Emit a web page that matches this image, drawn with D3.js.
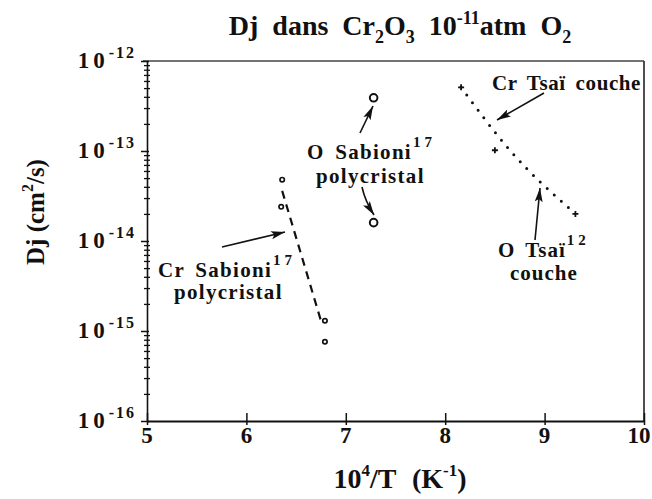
<!DOCTYPE html>
<html>
<head>
<meta charset="utf-8">
<script src="https://cdn.jsdelivr.net/npm/d3@7"></script>
<style>
  body { margin: 0; background: #fff; }
  svg text { font-family: "Liberation Serif", "Times New Roman", serif; font-weight: bold; fill: #111; }
</style>
</head>
<body>
<div id="chart"></div>
<script>
// Cr Sabioni(17) polycristal - small dots + dashed fit
var crSabX = [6.36, 6.35, 6.79, 6.79];
var crSabY = [4.8e-14, 2.4e-14, 1.3e-15, 7.6e-16];
var crSabFitX = [6.36, 6.75];
var crSabFitY = [3.6e-14, 1.3e-15];

// O Sabioni(17) polycristal - open circles
var oSabX = [7.28, 7.28];
var oSabY = [3.9e-13, 1.6e-14];

// Tsai couche - crosses + dotted fit
var tsaiX = [8.16, 8.50, 9.31];
var tsaiY = [5.1e-13, 1.02e-13, 2.0e-14];
var tsaiFitX = [8.16, 8.65, 9.29];
var tsaiFitY = [5.1e-13, 1.02e-13, 2.1e-14];

var xTicks = [5, 6, 7, 8, 9, 10];
var yExps = [-12, -13, -14, -15, -16];

var margin = {top: 61, right: 8, bottom: 78, left: 147},
    W = 652, H = 499,
    width = W - margin.left - margin.right,
    height = H - margin.top - margin.bottom;

var svg = d3.select("#chart").append("svg")
    .attr("width", W)
    .attr("height", H);

svg.append("defs").append("marker")
    .attr("id", "arr")
    .attr("markerUnits", "userSpaceOnUse")
    .attr("markerWidth", 16).attr("markerHeight", 10)
    .attr("refX", 14).attr("refY", 4)
    .attr("orient", "auto")
  .append("path")
    .attr("d", "M0,0 L14,4 L0,8 L3,4 z")
    .attr("fill", "#111");

var x = d3.scaleLinear().domain([5, 10]).range([0, width]);
var y = d3.scaleLog().domain([1e-16, 1e-12]).range([height, 0]);

var g = svg.append("g")
    .attr("transform", "translate(" + margin.left + "," + margin.top + ")");

// frame (top and right)
g.append("line").attr("x1", -4).attr("x2", width).attr("y1", 0).attr("y2", 0)
    .attr("stroke", "#444").attr("stroke-width", 1.4);
g.append("line").attr("x1", width).attr("x2", width).attr("y1", 0).attr("y2", height)
    .attr("stroke", "#222").attr("stroke-width", 1.6);

// y minor ticks
var minors = [];
yExps.slice(1).forEach(function(e) {
  for (var m = 2; m < 10; m++) minors.push(m * Math.pow(10, e));
});
var yMinor = g.append("g")
    .call(d3.axisLeft(y).tickValues(minors).tickSize(3).tickSizeOuter(0).tickFormat(""));
yMinor.selectAll(".tick line").attr("x1", 3).attr("stroke", "#111").attr("stroke-width", 1.3);
yMinor.select(".domain").attr("stroke", "#111").attr("stroke-width", 1.6);

// y major ticks
var yMajor = g.append("g")
    .call(d3.axisLeft(y).tickValues(yExps.map(function(e) { return Math.pow(10, e); }))
      .tickSize(6).tickSizeOuter(0).tickFormat(""));
yMajor.select(".domain").remove();
yMajor.selectAll(".tick line").attr("x1", 2).attr("stroke", "#111").attr("stroke-width", 1.5);

var yLab = g.append("g").selectAll("text")
    .data(yExps)
  .enter().append("text")
    .attr("x", -11)
    .attr("y", function(d) { return y(Math.pow(10, d)) + 7; })
    .attr("text-anchor", "end");
yLab.append("tspan").attr("font-size", 23).attr("letter-spacing", 4).text("10");
yLab.append("tspan").attr("font-size", 16).attr("dy", -10).attr("letter-spacing", 2)
    .text(function(d) { return "-" + (-d); });

// x axis
var xAx = g.append("g")
    .attr("transform", "translate(0," + height + ")")
    .call(d3.axisBottom(x).tickValues(xTicks).tickSize(4).tickSizeOuter(0).tickFormat(""));
xAx.select(".domain").attr("stroke", "#111").attr("stroke-width", 2);
xAx.selectAll(".tick line").attr("y1", -8).attr("stroke", "#111").attr("stroke-width", 1.5);

g.append("g").selectAll("text")
    .data(xTicks)
  .enter().append("text")
    .attr("x", function(d) { return d === 10 ? x(d) - 5 : x(d); })
    .attr("y", height + 22)
    .attr("text-anchor", "middle")
    .attr("font-size", 23)
    .text(function(d) { return d; });

// fits
var line = d3.line()
    .x(function(d) { return x(d[0]); })
    .y(function(d) { return y(d[1]); });

g.append("path")
    .datum(d3.zip(crSabFitX, crSabFitY))
    .attr("d", line)
    .attr("fill", "none").attr("stroke", "#111")
    .attr("stroke-width", 2.2).attr("stroke-dasharray", "8,6");

g.append("path")
    .datum(d3.zip(tsaiFitX, tsaiFitY))
    .attr("d", line.curve(d3.curveMonotoneX))
    .attr("fill", "none").attr("stroke", "#111")
    .attr("stroke-width", 3).attr("stroke-linecap", "round")
    .attr("stroke-dasharray", "0,9.5");

// points
g.selectAll(".crsab")
    .data(d3.zip(crSabX, crSabY))
  .enter().append("circle")
    .attr("class", "crsab")
    .attr("cx", function(d) { return x(d[0]); })
    .attr("cy", function(d) { return y(d[1]); })
    .attr("r", 2.2)
    .attr("fill", "#fff").attr("stroke", "#111").attr("stroke-width", 1.7);

g.selectAll(".osab")
    .data(d3.zip(oSabX, oSabY))
  .enter().append("circle")
    .attr("class", "osab")
    .attr("cx", function(d) { return x(d[0]); })
    .attr("cy", function(d) { return y(d[1]); })
    .attr("r", 3.8)
    .attr("fill", "#fff").attr("stroke", "#111").attr("stroke-width", 2);

g.selectAll(".tsai")
    .data(d3.zip(tsaiX, tsaiY))
  .enter().append("path")
    .attr("class", "tsai")
    .attr("transform", function(d) { return "translate(" + x(d[0]) + "," + y(d[1]) + ")"; })
    .attr("d", "M-3,0H3M0,-3V3")
    .attr("stroke", "#111").attr("stroke-width", 1.8);

// annotations (page pixels)
var arrows = [
  "M222,247 L285,232",
  "M360,133 L373,106",
  "M362,187 Q365,201 374,215",
  "M544,93 L497,120",
  "M535,240 L540,188"
];
svg.selectAll(".arrow")
    .data(arrows)
  .enter().append("path")
    .attr("class", "arrow")
    .attr("d", function(d) { return d; })
    .attr("fill", "none").attr("stroke", "#111").attr("stroke-width", 1.6)
    .attr("marker-end", "url(#arr)");

function note(xp, yp, ls, parts) {
  var t = svg.append("text").attr("x", xp).attr("y", yp).attr("font-size", 21)
      .attr("letter-spacing", ls).attr("word-spacing", 4);
  parts.forEach(function(p) {
    var s = t.append("tspan").text(p.t);
    if (p.sup) s.attr("font-size", 15).attr("dy", -12).attr("letter-spacing", 4).attr("dx", 1);
  });
  return t;
}
note(158, 277, 1.3, [{t: "Cr Sabioni"}, {t: "17", sup: true}]);
note(174, 299, 1.3, [{t: "polycristal"}]);
note(307, 159, 1.3, [{t: "O Sabioni"}, {t: "17", sup: true}]);
note(316, 183, 1.3, [{t: "polycristal"}]);
note(492, 90, 0.6, [{t: "Cr Tsaï couche"}]);
note(498, 257, 1, [{t: "O Tsaï"}, {t: "12", sup: true}]);
note(510, 280, 1, [{t: "couche"}]);

// title
var title = svg.append("text")
    .attr("x", 400).attr("y", 35)
    .attr("text-anchor", "middle")
    .attr("font-size", 28)
    .attr("word-spacing", 7);
title.append("tspan").text("Dj dans Cr");
title.append("tspan").attr("font-size", 18).attr("dy", 8).text("2");
title.append("tspan").attr("dy", -8).text("O");
title.append("tspan").attr("font-size", 18).attr("dy", 8).text("3");
title.append("tspan").attr("dy", -8).text(" 10");
title.append("tspan").attr("font-size", 18).attr("dy", -11).text("-11");
title.append("tspan").attr("dy", 11).text("atm O");
title.append("tspan").attr("font-size", 18).attr("dy", 8).text("2");

// x label
var xl = svg.append("text")
    .attr("x", 400).attr("y", 488)
    .attr("text-anchor", "middle")
    .attr("font-size", 28)
    .attr("word-spacing", 9);
xl.append("tspan").text("10");
xl.append("tspan").attr("font-size", 17).attr("dy", -12).text("4");
xl.append("tspan").attr("dy", 12).text("/T (K");
xl.append("tspan").attr("font-size", 17).attr("dy", -12).text("-1");
xl.append("tspan").attr("dy", 12).text(")");

// y label
var yl = svg.append("text")
    .attr("transform", "translate(44,212) rotate(-90)")
    .attr("text-anchor", "middle")
    .attr("font-size", 25);
yl.append("tspan").text("Dj (cm");
yl.append("tspan").attr("font-size", 16).attr("dy", -11).text("2");
yl.append("tspan").attr("dy", 11).text("/s)");
</script>
</body>
</html>
